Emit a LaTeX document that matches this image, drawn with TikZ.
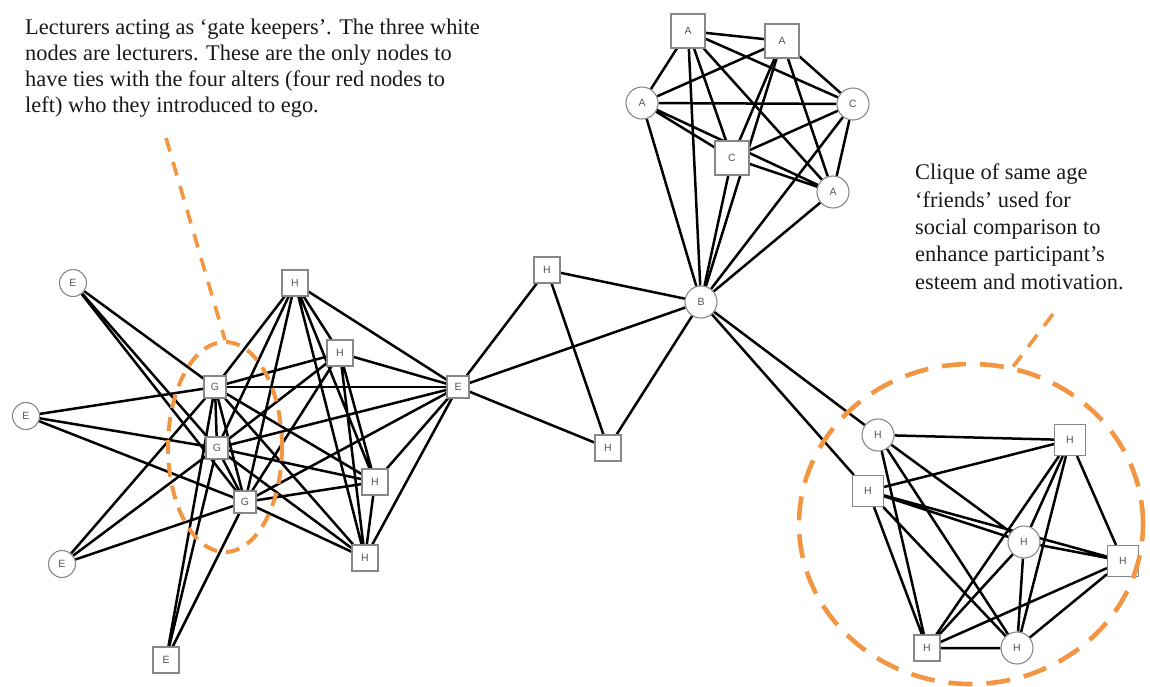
\documentclass[tikz,border=0pt]{standalone}
\usepackage{fontspec}
\setmainfont{Liberation Serif}
\newfontfamily\labelfont{Liberation Sans}
\usetikzlibrary{backgrounds,shapes.geometric}
\definecolor{nodeline}{RGB}{135,135,135}
\definecolor{nodetext}{RGB}{85,85,85}
\definecolor{hilite}{RGB}{243,150,68}
\definecolor{ink}{RGB}{25,25,25}
\begin{document}
\begin{tikzpicture}[x=1pt,y=-1pt,
  vbase/.style={draw=nodeline, line width=1.1pt, fill=white, inner sep=0pt,
    font=\labelfont\fontsize{10.5}{10.5}\selectfont, text=nodetext},
  rnd/.style={vbase, circle, minimum size=32pt},
  rndsm/.style={vbase, circle, minimum size=27pt},
  sq/.style={vbase, rectangle, minimum size=26pt},
  sqsm/.style={vbase, rectangle, minimum size=22pt},
  sqbig/.style={vbase, rectangle, minimum size=34pt},
  sqmid/.style={vbase, rectangle, minimum size=31pt},
  tie/.style={draw=black, line width=2.5pt},
  ring/.style={draw=hilite, line width=4pt, inner sep=0pt},
  lead/.style={draw=hilite, line width=3.6pt, dash pattern=on 14pt off 11pt},
  note/.style={inner sep=0pt, align=left, text=ink, anchor=north west}]
\useasboundingbox (0,0) rectangle (1150,686);

% ---- gate-keeper group (left) ----
\node[rndsm] (e1) at (73,283) {E};
\node[rndsm] (e2) at (26,416) {E};
\node[rndsm] (e3) at (62,564) {E};
\node[sq]    (e4) at (166,660) {E};
\node[sqsm]  (g1) at (215,387) {G};
\node[sqsm]  (g2) at (217,448) {G};
\node[sqsm]  (g3) at (245,502) {G};
\node[sq]    (h1) at (295,283) {H};
\node[sq]    (h2) at (340,353) {H};
\node[sq]    (h3) at (375,482) {H};
\node[sq]    (h4) at (365,558) {H};
\node[sqsm]  (em) at (458,387) {E};

% ---- bridge ----
\node[sq]  (ht) at (547,270) {H};
\node[sq]  (hb) at (608,448) {H};
\node[rnd] (b)  at (701,302) {B};

% ---- top cluster ----
\node[sqbig] (a1) at (688,31) {A};
\node[sqbig] (a2) at (782,41) {A};
\node[rnd]   (a3) at (642,103) {A};
\node[rnd]   (c1) at (853,104) {C};
\node[sqbig] (c2) at (732,158) {C};
\node[rnd]   (a4) at (833,192) {A};

% ---- friends clique (right) ----
\node[rnd]   (r1) at (878,435) {H};
\node[sqmid] (r2) at (1070,440) {H};
\node[sqmid] (r3) at (868,491) {H};
\node[rnd]   (r4) at (1024,542) {H};
\node[sqmid] (r5) at (1123,561) {H};
\node[sq]    (r6) at (927,648) {H};
\node[rnd]   (r7) at (1017,648) {H};

\begin{scope}[on background layer]
  % alters introduced through the lecturers
  \foreach \u in {e1,e2,e3,e4}
    \foreach \g in {g1,g2,g3}
      \draw[tie] (\u) -- (\g);
  \draw[tie] (g1) -- (g2) (g1) -- (g3) (g2) -- (g3);
  \foreach \g in {g1,g2,g3}
    \foreach \v in {h1,h2,h3,h4,em}
      \draw[tie] (\g) -- (\v);
  \draw[tie] (h1) -- (h2) (h1) -- (h3) (h1) -- (h4) (h1) -- (em)
             (h2) -- (h3) (h2) -- (h4) (h2) -- (em)
             (h3) -- (h4) (h3) -- (em) (h4) -- (em);
  % bridge
  \draw[tie] (em) -- (ht) (em) -- (b) (em) -- (hb)
             (ht) -- (b) (ht) -- (hb) (hb) -- (b);
  % top cluster: complete, and all tied to B
  \draw[tie] (a1) -- (a2) (a1) -- (a3) (a1) -- (c1) (a1) -- (c2) (a1) -- (a4)
             (a2) -- (a3) (a2) -- (c1) (a2) -- (c2) (a2) -- (a4)
             (a3) -- (c1) (a3) -- (c2) (a3) -- (a4)
             (c1) -- (c2) (c1) -- (a4) (c2) -- (a4);
  \foreach \v in {a1,a2,a3,c1,c2,a4}
    \draw[tie] (\v) -- (b);
  \draw[tie] (b) -- (r1) (b) -- (r3);
  % friends clique
  \draw[tie] (r1) -- (r2) (r1) -- (r4) (r1) -- (r6) (r1) -- (r7)
             (r2) -- (r3) (r2) -- (r4) (r2) -- (r5) (r2) -- (r6) (r2) -- (r7)
             (r3) -- (r4) (r3) -- (r5) (r3) -- (r6) (r3) -- (r7)
             (r4) -- (r5) (r4) -- (r6) (r4) -- (r7)
             (r5) -- (r6) (r5) -- (r7) (r6) -- (r7);
\end{scope}

% ---- highlighted groups and their notes ----
\node[ring, ellipse, dash pattern=on 14pt off 9pt,
      minimum width=114pt, minimum height=210pt] (gk) at (225,447) {};
\node[ring, ellipse, line width=4.6pt, dash pattern=on 24pt off 14pt,
      minimum width=344pt, minimum height=320pt] (clq) at (971,524) {};
\coordinate (gkfrom) at (166,138);
\coordinate (clqfrom) at (1053,314);
\draw[lead] (gkfrom) -- (gk.north);
\draw[lead, dash pattern=on 15pt off 11pt] (clqfrom) -- (clq.75);

\node[note, font=\fontsize{22.4}{26}\selectfont] (gknote) at (25,19)
  {Lecturers acting as ‘gate keepers’. The three white\\
   nodes are lecturers. These are the only nodes to\\
   have ties with the four alters (four red nodes to\\
   left) who they introduced to ego.};
\node[note, font=\fontsize{22.4}{27.3}\selectfont] (clqnote) at (915,164)
  {Clique of same age\\
   ‘friends’ used for\\
   social comparison to\\
   enhance participant’s\\
   esteem and motivation.};
\end{tikzpicture}
\end{document}
